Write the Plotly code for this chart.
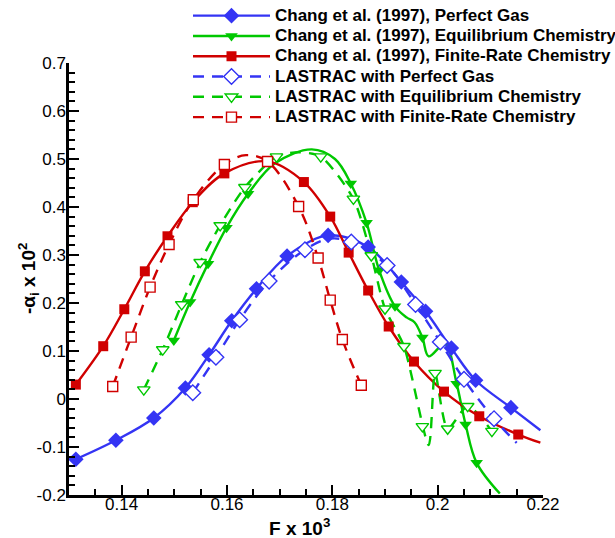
import plotly.graph_objects as go

# ---------------- data ----------------
# Chang et al. (1997), Perfect Gas
chang_pg_x = [0.1313, 0.1389, 0.1461, 0.1521, 0.1566, 0.1609, 0.1656, 0.1714, 0.1792,
              0.1868, 0.1931, 0.1977, 0.2026, 0.2072, 0.2139, 0.2195]
chang_pg_y = [-0.1255, -0.086, -0.0395, 0.023, 0.092, 0.163, 0.2298, 0.2977, 0.3408,
              0.3165, 0.2436, 0.1826, 0.106, 0.039, -0.018, -0.065]
chang_pg_mx = [0.1313, 0.1389, 0.1461, 0.1521, 0.1566, 0.1609, 0.1656, 0.1714, 0.1792,
               0.1868, 0.1931, 0.1977, 0.2026, 0.2072, 0.2139]
chang_pg_my = [-0.1255, -0.086, -0.0395, 0.023, 0.092, 0.163, 0.2298, 0.2977, 0.3408,
               0.3165, 0.2436, 0.1826, 0.106, 0.039, -0.018]

# Chang et al. (1997), Equilibrium Chemistry
chang_eq_x = [0.1499, 0.1530, 0.1564, 0.1599, 0.1640, 0.1691, 0.1761, 0.1805, 0.1835,
              0.1865, 0.1889, 0.1919, 0.1941, 0.1956, 0.1971, 0.1983, 0.2014, 0.2036,
              0.2053, 0.2074, 0.2118]
chang_eq_y = [0.122, 0.202, 0.282, 0.357, 0.4275, 0.491, 0.520, 0.500, 0.449,
              0.367, 0.268, 0.193, 0.170, 0.160, 0.128, 0.089, 0.115, 0.032,
              -0.053, -0.133, -0.197]
chang_eq_mx = [0.1499, 0.1530, 0.1564, 0.1599, 0.1640, 0.1835, 0.1865, 0.1889, 0.1919,
               0.1971, 0.2036, 0.2053, 0.2074]
chang_eq_my = [0.122, 0.202, 0.282, 0.357, 0.4275, 0.449, 0.367, 0.268, 0.193,
               0.128, 0.032, -0.053, -0.133]

# Chang et al. (1997), Finite-Rate Chemistry
chang_fr_x = [0.1313, 0.1365, 0.1405, 0.1444, 0.1487, 0.1535, 0.1595, 0.1677, 0.1746,
              0.1796, 0.1831, 0.1868, 0.1907, 0.1955, 0.2012, 0.2079, 0.2153, 0.2195]
chang_fr_y = [0.030, 0.110, 0.187, 0.266, 0.339, 0.410, 0.470, 0.495, 0.452,
              0.380, 0.305, 0.226, 0.151, 0.078, 0.0154, -0.036, -0.074, -0.091]
chang_fr_mx = [0.1313, 0.1365, 0.1405, 0.1444, 0.1487, 0.1535, 0.1595, 0.1746,
               0.1796, 0.1831, 0.1868, 0.1907, 0.1955, 0.2012, 0.2079, 0.2153]
chang_fr_my = [0.030, 0.110, 0.187, 0.266, 0.339, 0.410, 0.470, 0.452,
               0.380, 0.305, 0.226, 0.151, 0.078, 0.0154, -0.036, -0.074]

# LASTRAC with Perfect Gas
las_pg_x = [0.1535, 0.1579, 0.1624, 0.1680, 0.1748, 0.1795, 0.1836, 0.1904, 0.1958,
            0.2005, 0.2050, 0.2107, 0.2150]
las_pg_y = [0.013, 0.087, 0.165, 0.2456, 0.311, 0.334, 0.327, 0.278, 0.197,
            0.1187, 0.041, -0.041, -0.0915]
las_pg_mx = [0.1535, 0.1579, 0.1624, 0.1680, 0.1748, 0.1836, 0.1904, 0.1958,
             0.2005, 0.2050, 0.2107]
las_pg_my = [0.013, 0.087, 0.165, 0.2456, 0.311, 0.327, 0.278, 0.197,
             0.1187, 0.041, -0.041]

# LASTRAC with Equilibrium Chemistry
las_eq_x = [0.1442, 0.1478, 0.1514, 0.1549, 0.1587, 0.1634, 0.1694, 0.1736, 0.1778,
            0.1840, 0.1874, 0.1900, 0.1936, 0.1983, 0.1995, 0.2019, 0.2057, 0.2103]
las_eq_y = [0.0195, 0.103, 0.197, 0.285, 0.3616, 0.441, 0.505, 0.514, 0.505,
            0.417, 0.299, 0.188, 0.110, -0.096, 0.054, -0.062, -0.015, -0.067]
las_eq_mx = [0.1442, 0.1478, 0.1514, 0.1549, 0.1587, 0.1634, 0.1694, 0.1778,
             0.1840, 0.1874, 0.1900, 0.1936, 0.1995, 0.1971, 0.2019, 0.2057, 0.2103]
las_eq_my = [0.0195, 0.103, 0.197, 0.285, 0.3616, 0.441, 0.505, 0.505,
             0.417, 0.299, 0.188, 0.110, 0.054, -0.057, -0.062, -0.015, -0.067]

# LASTRAC with Finite-Rate Chemistry
las_fr_x = [0.1383, 0.1418, 0.1454, 0.1490, 0.1536, 0.1595, 0.1636, 0.1677, 0.1736,
            0.1773, 0.1796, 0.1819, 0.1855]
las_fr_y = [0.026, 0.129, 0.233, 0.322, 0.415, 0.4886, 0.508, 0.4948, 0.401,
            0.2936, 0.206, 0.124, 0.0285]
las_fr_mx = [0.1383, 0.1418, 0.1454, 0.1490, 0.1536, 0.1595, 0.1677, 0.1736,
             0.1773, 0.1796, 0.1819, 0.1855]
las_fr_my = [0.026, 0.129, 0.233, 0.322, 0.415, 0.4886, 0.4948, 0.401,
             0.2936, 0.206, 0.124, 0.0285]

x_tickvals = [0.14, 0.16, 0.18, 0.20, 0.22]
x_ticktext = ["0.14", "0.16", "0.18", "0.2", "0.22"]
y_tickvals = [-0.2, -0.1, 0.0, 0.1, 0.2, 0.3, 0.4, 0.5, 0.6, 0.7]
y_ticktext = ["-0.2", "-0.1", "0", "0.1", "0.2", "0.3", "0.4", "0.5", "0.6", "0.7"]

names = ["Chang et al. (1997), Perfect Gas",
         "Chang et al. (1997), Equilibrium Chemistry",
         "Chang et al. (1997), Finite-Rate Chemistry",
         "LASTRAC with Perfect Gas",
         "LASTRAC with Equilibrium Chemistry",
         "LASTRAC with Finite-Rate Chemistry"]

# ---------------- styling ----------------
BLUE = "#3434f4"
GREEN = "#00c800"
RED = "#d00000"
LW = 2.4
DASH = "11px,8px"
FONT = "Liberation Sans, Arial, sans-serif"

series = [
    (names[0], chang_pg_x, chang_pg_y, chang_pg_mx, chang_pg_my, BLUE, "solid", "diamond", 12, True),
    (names[1], chang_eq_x, chang_eq_y, chang_eq_mx, chang_eq_my, GREEN, "solid", "triangle-down", 11, True),
    (names[2], chang_fr_x, chang_fr_y, chang_fr_mx, chang_fr_my, RED, "solid", "square", 10, True),
    (names[3], las_pg_x, las_pg_y, las_pg_mx, las_pg_my, BLUE, DASH, "diamond", 12, False),
    (names[4], las_eq_x, las_eq_y, las_eq_mx, las_eq_my, GREEN, DASH, "triangle-down", 11, False),
    (names[5], las_fr_x, las_fr_y, las_fr_mx, las_fr_my, RED, DASH, "square", 10, False),
]

fig = go.Figure()

# lines first
for name, cx, cy, mx, my, col, dash, sym, sz, filled in series:
    smooth = 0.7 if name == names[4] else 1.0
    fig.add_trace(go.Scatter(x=cx, y=cy, mode="lines", showlegend=False,
                             line=dict(color=col, width=LW, dash=dash, shape="spline",
                                       smoothing=smooth),
                             hoverinfo="skip"))

# markers
for name, cx, cy, mx, my, col, dash, sym, sz, filled in series:
    fig.add_trace(go.Scatter(x=mx, y=my, mode="markers", showlegend=False, name=name,
                             marker=dict(symbol=sym, size=sz,
                                         color=col if filled else "white",
                                         line=dict(color=col, width=0 if filled else 1.4))))

# legend-only entries
for name, cx, cy, mx, my, col, dash, sym, sz, filled in series:
    fig.add_trace(go.Scatter(x=[None], y=[None], mode="lines+markers",
                             name='<span style="font-size:17px">' + name + "</span>",
                             line=dict(color=col, width=LW, dash=dash),
                             marker=dict(symbol=sym, size=sz,
                                         color=col if filled else "white",
                                         line=dict(color=col, width=0 if filled else 1.4))))

axis_common = dict(showline=True, linecolor="black", linewidth=2.5, mirror=False,
                   showgrid=False, zeroline=False, ticks="inside", ticklen=10,
                   tickwidth=2, tickcolor="black", tickmode="array",
                   tickfont=dict(family=FONT, size=17, color="black"))

fig.update_layout(
    width=615, height=538,
    margin=dict(l=69, r=72, t=63, b=43, autoexpand=False),
    paper_bgcolor="white", plot_bgcolor="white",
    xaxis=dict(range=[0.13, 0.22], tickvals=x_tickvals, ticktext=x_ticktext,
               ticklabelstandoff=-8,
               minor=dict(ticks="inside", dtick=0.005, ticklen=6,
                          tickwidth=1.5, tickcolor="black", showgrid=False),
               **axis_common),
    yaxis=dict(range=[-0.2, 0.7], tickvals=y_tickvals, ticktext=y_ticktext,
               ticklabelstandoff=-3,
               minor=dict(ticks="inside", dtick=0.02, ticklen=6,
                          tickwidth=1.5, tickcolor="black", showgrid=False),
               **axis_common),
    legend=dict(x=(188 - 69) / 474, y=(495 - 0.5) / 432,
                xanchor="left", yanchor="top", bgcolor="rgba(0,0,0,0)",
                itemwidth=77, tracegroupgap=0,
                font=dict(family=FONT, size=13.3, color="black", weight="bold")),
    annotations=[
        dict(text="F x 10<sup>3</sup>", xref="paper", yref="paper",
             x=(299 - 69) / (543 - 69), y=-(527 - 495) / (495 - 63),
             xanchor="center", yanchor="middle", showarrow=False,
             font=dict(family=FONT, size=19, color="black", weight="bold")),
        dict(text="-α<sub>i</sub> x 10<sup>2</sup>", xref="paper", yref="paper",
             x=-(69 - 28) / (543 - 69), y=(495 - 279) / (495 - 63), textangle=-90,
             xanchor="center", yanchor="middle", showarrow=False,
             font=dict(family=FONT, size=19, color="black", weight="bold")),
    ],
)

fig.write_html("out.html")
